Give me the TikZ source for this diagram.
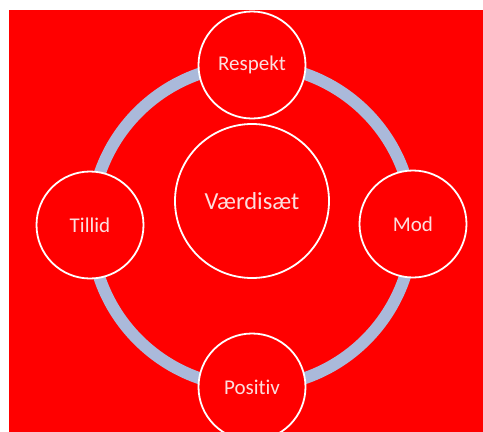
\documentclass[tikz,border=0pt]{standalone}
\usepackage{fontspec}
\setmainfont[Ligatures=NoCommon]{Carlito}
\definecolor{bgred}{RGB}{255,0,0}
\definecolor{ringblue}{RGB}{170,185,218}
\definecolor{txt}{RGB}{252,222,222}
\begin{document}
\begin{tikzpicture}[x=1pt,y=-1pt,
  valcircle/.style={circle,draw=white,line width=1.8pt,fill=bgred,inner sep=0pt,text=txt},
  small/.style={valcircle,minimum size=107pt,font=\fontsize{21}{23}\selectfont},
  big/.style={valcircle,minimum size=154pt,font=\fontsize{24.5}{27}\selectfont}]
\useasboundingbox (0,0) rectangle (483,432);
\fill[white] (0,0) rectangle (483,432);
\fill[bgred] (9,10) rectangle (483,432);
\begin{scope}
\clip (9,10) rectangle (483,432);
\coordinate (c) at (252,226);
\draw[ringblue,line width=12pt] (c) circle[radius=161];
\node[small] (respekt) at (252,65) {Respekt};
\node[small] (tillid) at (90,225) {Tillid};
\node[small] (mod) at (413,224) {Mod};
\node[small] (positiv) at (252,387) {Positiv};
\node[big] (vaerdi) at (252,201) {Værdisæt};
\end{scope}
\end{tikzpicture}
\end{document}
